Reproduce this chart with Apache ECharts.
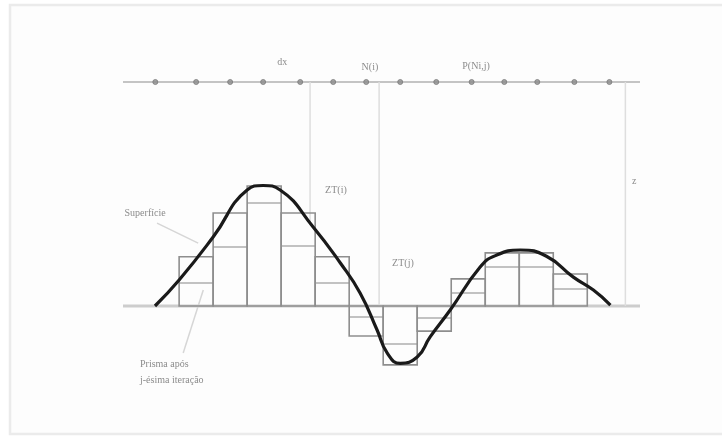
<!DOCTYPE html>
<html>
<head>
<meta charset="utf-8">
<style>
  html, body { margin: 0; padding: 0; background: #ffffff; }
  #chart { width: 722px; height: 437px; }
</style>
<script src="https://cdn.jsdelivr.net/npm/echarts@6/dist/echarts.min.js"></script>
</head>
<body>
<div id="chart"></div>
<script>
// Prism columns: column i spans [i, i+1] along the profile
const prismColumns = [0, 1, 2, 3, 4, 5, 6, 7, 8, 9, 10, 11];
// Prism height after the j-th iteration (outer box)
const prismOuter = [2.2, 4.15, 5.36, 4.15, 2.2, -1.34, -2.63, -1.12, 1.21, 2.37, 2.37, 1.43];
// Previous prism level (inner line)
const prismInner = [1.03, 2.63, 4.6, 2.68, 1.03, -0.49, -1.7, -0.54, 0.58, 1.74, 1.74, 0.76];

// Surface profile
const surfaceX = [-0.71, 0.0, 1.0, 2.0, 2.47, 2.97, 3.94, 4.74, 5.32, 5.82, 6.12, 6.5, 7.0, 7.38, 7.97, 8.85, 9.3, 10.03, 10.8, 11.59, 12.18, 12.68];
const surfaceZ = [0.0, 1.16, 3.08, 5.18, 5.38, 5.18, 3.53, 1.92, 0.58, -1.07, -2.1, -2.56, -2.28, -1.38, -0.18, 1.74, 2.25, 2.5, 2.22, 1.29, 0.71, 0.04];

// Observation level and its nodes
const observationZ = 10;
const nodeX = [-0.7, 0.5, 1.5, 2.47, 3.56, 4.53, 5.5, 6.5, 7.56, 8.6, 9.56, 10.53, 11.62, 12.65];

// Vertical guides: [x, fromZ, toZ]
const guides = [[3.85, 10, 3.7], [5.88, 10, 0], [13.12, 10, 0]];
// Leader lines: [x1, z1, x2, z2]
const leaders = [[-0.65, 3.7, 0.56, 2.81], [0.12, -2.1, 0.71, 0.71]];

// Annotation texts: [x, z, text, align]
const notes = [
  [3.03, 10.89, 'dx', 'center'],
  [5.61, 10.67, 'N(i)', 'center'],
  [8.73, 10.71, 'P(Ni,j)', 'center'],
  [4.61, 5.18, 'ZT(i)', 'center'],
  [6.58, 1.92, 'ZT(j)', 'center'],
  [13.38, 5.58, 'z', 'center'],
  [-1.0, 4.15, 'Superfície', 'center'],
  [-1.15, -2.54, 'Prisma após\nj-ésima iteração', 'left']
];

const X_MIN = -1.65, X_MAX = 13.55;

const chart = echarts.init(document.getElementById('chart'), null, { renderer: 'canvas' });

const textStyleBase = {
  fontFamily: 'Liberation Serif',
  fontSize: 10,
  color: '#6e6e6e'
};

const series = [];

// Base line (z = 0)
series.push({
  type: 'line', silent: true, symbol: 'none', z: 1,
  data: [[X_MIN, 0], [X_MAX, 0]],
  lineStyle: { color: '#cdcdcd', width: 3 }
});

// Observation level line with nodes
series.push({
  type: 'line', silent: true, symbol: 'none', z: 1,
  data: [[X_MIN, observationZ], [X_MAX, observationZ]],
  lineStyle: { color: '#c4c4c4', width: 2 }
});
series.push({
  type: 'scatter', silent: true, z: 3,
  symbol: 'circle', symbolSize: 5,
  data: nodeX.map(x => [x, observationZ]),
  itemStyle: { color: '#8c8c8c', borderColor: '#7a7a7a', borderWidth: 1 }
});

// Vertical guides
guides.forEach(g => {
  series.push({
    type: 'line', silent: true, symbol: 'none', z: 1,
    data: [[g[0], g[1]], [g[0], g[2]]],
    lineStyle: { color: '#dedede', width: 1.5 }
  });
});

// Leader lines
leaders.forEach(l => {
  series.push({
    type: 'line', silent: true, symbol: 'none', z: 1,
    data: [[l[0], l[1]], [l[2], l[3]]],
    lineStyle: { color: '#d6d6d6', width: 1.5 }
  });
});

// Prisms: outer box plus inner level line
series.push({
  type: 'custom', silent: true, z: 2,
  data: prismColumns.map((c, i) => [c, prismOuter[i], prismInner[i]]),
  renderItem: function (params, api) {
    const c = api.value(0);
    const p0 = api.coord([c, 0]);
    const p1 = api.coord([c + 1, api.value(1)]);
    const q0 = api.coord([c, api.value(2)]);
    const q1 = api.coord([c + 1, api.value(2)]);
    return {
      type: 'group',
      children: [
        {
          type: 'line',
          shape: { x1: q0[0], y1: q0[1], x2: q1[0], y2: q1[1] },
          style: { stroke: '#c2c2c2', lineWidth: 2 }
        },
        {
          type: 'rect',
          shape: { x: p0[0], y: Math.min(p0[1], p1[1]), width: p1[0] - p0[0], height: Math.abs(p1[1] - p0[1]) },
          style: { fill: 'none', stroke: '#8e8e8e', lineWidth: 1.6 }
        }
      ]
    };
  }
});

// Surface profile
series.push({
  type: 'line', silent: true, symbol: 'none', smooth: 0.5, z: 4,
  data: surfaceX.map((x, i) => [x, surfaceZ[i]]),
  lineStyle: { color: '#1a1a1a', width: 3.2 }
});

// Annotations
series.push({
  type: 'scatter', silent: true, z: 5, symbolSize: 0, clip: false,
  data: notes.map(n => ({
    value: [n[0], n[1]],
    label: {
      show: true,
      position: 'inside',
      formatter: n[2],
      align: n[3],
      verticalAlign: n[3] === 'left' ? 'top' : 'middle',
      offset: n[3] === 'left' ? [0, -7] : [0, 0],
      lineHeight: 16,
      ...textStyleBase
    }
  }))
});

chart.setOption({
  animation: false,
  backgroundColor: '#ffffff',
  graphic: [{
    type: 'rect', silent: true, z: -10,
    shape: { x: 10, y: 5, width: 716, height: 429 },
    style: { fill: '#fdfdfd', stroke: '#ebebeb', lineWidth: 2.5 }
  }],
  grid: { left: 123, right: 82, top: 82, bottom: 41.4 },
  xAxis: { type: 'value', min: X_MIN, max: X_MAX, show: false },
  yAxis: { type: 'value', min: -4, max: observationZ, show: false },
  series: series
});
</script>
</body>
</html>
